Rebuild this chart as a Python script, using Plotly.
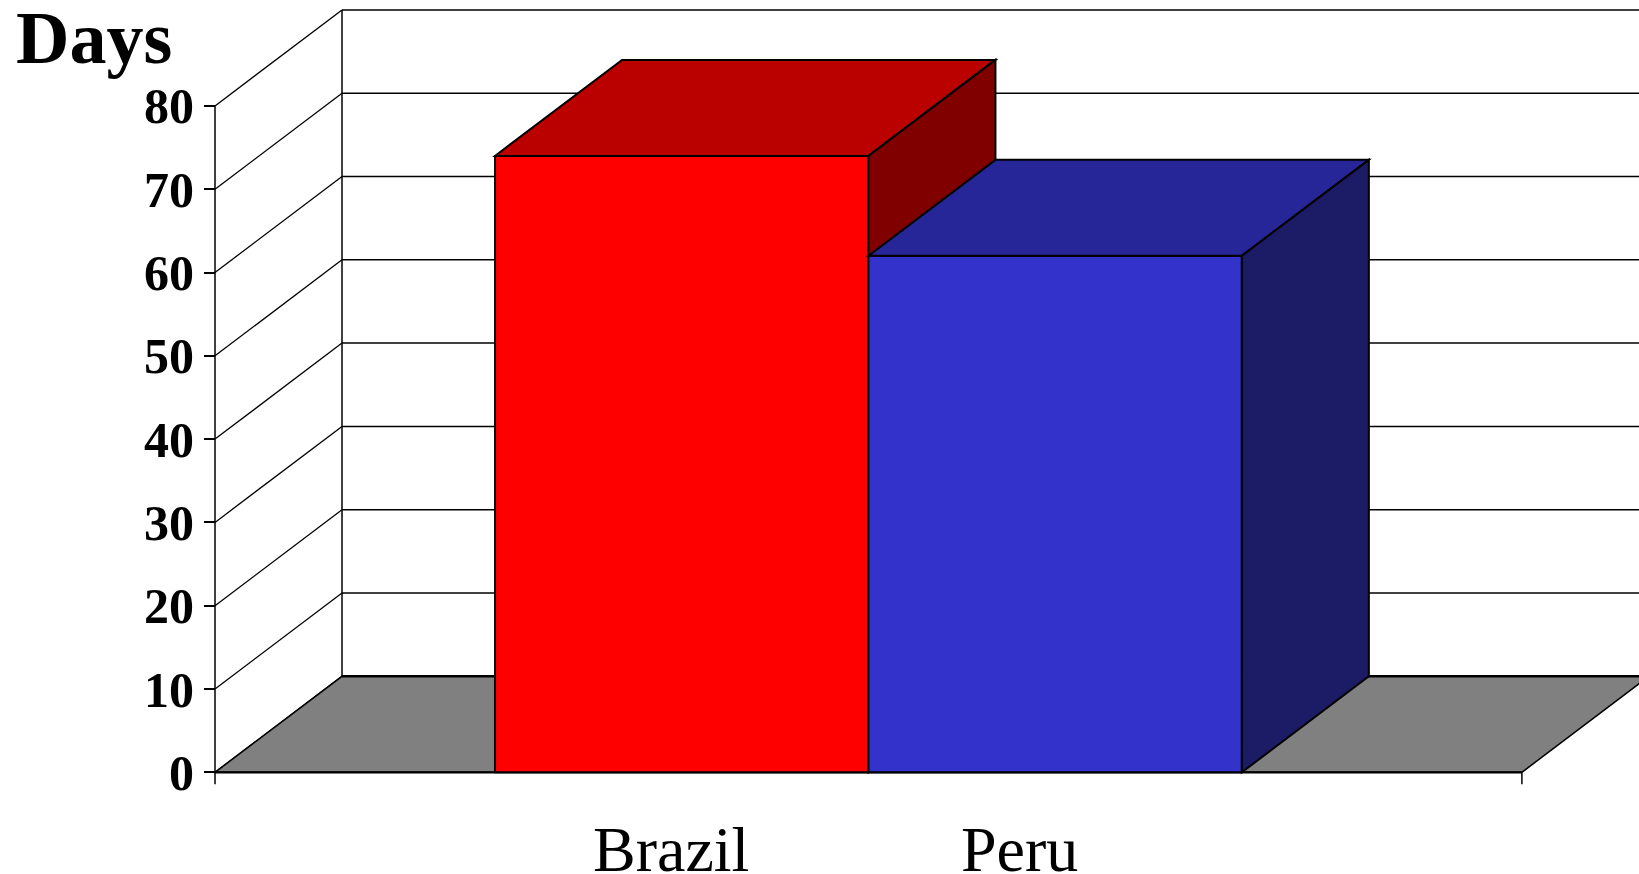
import plotly.graph_objects as go

# ---- data ----
categories = ["Brazil", "Peru"]
days = [74, 62]
y_ticks = [0, 10, 20, 30, 40, 50, 60, 70, 80]
axis_title = "Days"

# ---- styles ----
front_colors = ["#FF0000", "#3333CC"]
top_colors = ["#BB0000", "#262699"]
side_colors = ["#800000", "#1B1B66"]
floor_color = "#808080"
label_xshift = [-11, -36]

W, H = 1639, 874
x0_px = 215.0        # pixel of the value axis
y0_px = 772.3        # pixel of value 0
px_per_val = 8.33    # pixels per day
px_per_unit = 373.4  # pixels per category unit (bar width = 1)
gap = 0.75           # floor gap on each side, in category units
depth_px = (127.0, 96.0)

n = len(categories)
x_end = 2 * gap + n
dx = depth_px[0] / px_per_unit
dy = depth_px[1] / px_per_val
ymax = y_ticks[-1]

shapes = []


def line(x1, y1, x2, y2, w=1.5, color="black"):
    shapes.append(dict(type="line", xref="x", yref="y", x0=x1, y0=y1, x1=x2, y1=y2,
                       line=dict(color=color, width=w), layer="above"))


def poly(pts, fill, w=1.5):
    path = "M " + " L ".join(f"{px},{py}" for px, py in pts) + " Z"
    shapes.append(dict(type="path", xref="x", yref="y", path=path, fillcolor=fill,
                       line=dict(color="black", width=w), layer="above"))


# back wall gridlines
for v in y_ticks:
    line(dx, v + dy, x_end + dx, v + dy, 1.5)
# back wall left edge
line(dx, dy, dx, ymax + dy, 1.5)
# side wall diagonals
for v in y_ticks:
    line(0, v, dx, v + dy, 1.3)
# value axis line
line(0, 0, 0, ymax, 1.5)
# floor
poly([(0, 0), (x_end, 0), (x_end + dx, dy), (dx, dy)], floor_color, 1.5)
line(dx, dy, x_end + dx, dy, 2.5)
line(0, 0, x_end, 0, 2.2)
# end ticks of category axis
tick_len = 12 / px_per_val
line(0, 0, 0, -tick_len, 1.5)
line(x_end, 0, x_end, -tick_len, 1.5)

# bars (left to right)
for i, (cat, v) in enumerate(zip(categories, days)):
    xl = gap + i
    xr = xl + 1
    poly([(xl, 0), (xr, 0), (xr, v), (xl, v)], front_colors[i], 2)
    poly([(xl, v), (xr, v), (xr + dx, v + dy), (xl + dx, v + dy)], top_colors[i], 2)
    poly([(xr, 0), (xr, v), (xr + dx, v + dy), (xr + dx, dy)], side_colors[i], 2)

annotations = [
    dict(text=f"<b>{axis_title}</b>", xref="paper", yref="paper", x=14 / W, y=1,
         xanchor="left", yanchor="top", showarrow=False, yshift=5,
         font=dict(family="Liberation Serif", size=74, color="black")),
]
for i, cat in enumerate(categories):
    annotations.append(dict(text=cat, xref="x", yref="y", x=gap + i + 0.5, y=0,
                            xanchor="center", yanchor="top", showarrow=False,
                            xshift=label_xshift[i], yshift=-40,
                            font=dict(family="Liberation Serif", size=64, color="black")))

fig = go.Figure()
fig.add_trace(go.Scatter(x=[None], y=[None], showlegend=False, hoverinfo="skip"))
fig.update_layout(
    width=W, height=H, margin=dict(l=0, r=0, t=0, b=0),
    paper_bgcolor="white", plot_bgcolor="white", showlegend=False,
    shapes=shapes, annotations=annotations,
    xaxis=dict(domain=[0, 1], range=[-x0_px / px_per_unit, (W - x0_px) / px_per_unit],
               visible=False, fixedrange=True),
    yaxis=dict(domain=[0, 1], range=[-(H - y0_px) / px_per_val, y0_px / px_per_val],
               anchor="free", position=x0_px / W, side="left",
               tickmode="array", tickvals=y_ticks, ticktext=[str(t) for t in y_ticks],
               ticks="outside", ticklen=11, tickwidth=1.5, tickcolor="black",
               showgrid=False, zeroline=False, showline=False,
               tickfont=dict(family="Liberation Serif", size=50, color="black", weight="bold"),
               fixedrange=True),
)
fig.write_html("out.html", config={"displayModeBar": False},
               post_script="document.body.style.margin='0';document.body.style.overflow='hidden';")
